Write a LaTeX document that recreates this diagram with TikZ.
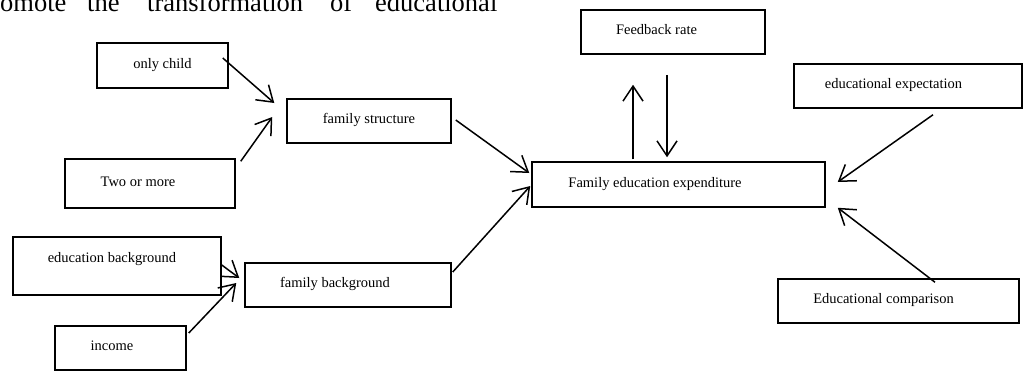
\documentclass[tikz,border=0pt]{standalone}
\usepackage{fontspec}
\setmainfont{Liberation Serif}
\usetikzlibrary{arrows.meta,calc}
\tikzset {
  >={Straight Barb[length=15pt,width=20pt]},
  every node/.style={font=\fontsize{14.5}{17}\selectfont},
}

\begin{document}
\begin{tikzpicture}[x=1pt,y=-1pt,
    box/.style={draw,line width=1.5pt,inner sep=0pt,text height=10pt,text depth=5pt},
    link/.style={->,line width=1.5pt}]
  \useasboundingbox (0,0) rectangle (1024,370);
  \clip (0,0) rectangle (1024,370);
  \foreach \x/\w in {0/omote,87/the,147/transformation,330/of,375/educational}
    \node[anchor=base west,inner sep=0pt,font=\fontsize{26.5}{30}\selectfont] (top-\w) at (\x,11.5) {\w};
  \node[box,minimum width=131pt,minimum height=45pt] (child) at (162.5,65.5) {only child};
  \node[box,minimum width=164pt,minimum height=44pt] (struct) at (369,121) {family structure};
  \node[box,minimum width=170pt,minimum height=49pt] (two) at (150,183.5) {Two or more\hspace*{24pt}};
  \node[box,minimum width=208pt,minimum height=58pt,text depth=18pt] (edu) at (117,266) {education background\hspace*{10pt}};
  \node[box,minimum width=206pt,minimum height=44pt] (fback) at (348,285) {family background\hspace*{26pt}};
  \node[box,minimum width=131pt,minimum height=44pt] (income) at (120.5,348) {income\hspace*{17pt}};
  \node[box,minimum width=184pt,minimum height=44pt] (feed) at (673,32) {Feedback rate\hspace*{33pt}};
  \node[box,minimum width=228pt,minimum height=44pt] (expect) at (908,86) {educational expectation\hspace*{29pt}};
  \node[box,minimum width=293pt,minimum height=45pt] (fee) at (678.5,184.5) {Family education expenditure\hspace*{47pt}};
  \node[box,minimum width=241pt,minimum height=44pt] (compare) at (898.5,301) {Educational comparison\hspace*{30pt}};
  \draw[link] ($(child.east)+(-6,-7.5)$) -- ($(struct.west)+(-12,-18)$);
  \draw[link] ($(two.north east)+(5,3)$) -- ($(struct.west)+(-14,-4)$);
  \draw[link] ($(struct.east)+(4,-1)$) -- ($(fee.west)+(-2,-11.5)$);
  \draw[link] ($(edu.east)+(0,-1)$) -- ($(fback.west)+(-5,-7)$);
  \draw[link] ($(income.east)+(2,-15)$) -- ($(fback.west)+(-8,-2)$);
  \draw[link] ($(fback.east)+(1,-13)$) -- ($(fee.west)+(-1,1.5)$);
  \draw[link] ($(fee.north)+(-45.5,-2)$) -- ($(feed.south)+(-40,30)$);
  \draw[link] ($(feed.south)+(-6,20)$) -- ($(fee.north)+(-11.5,-4)$);
  \draw[link] ($(expect.south)+(25,6)$) -- ($(fee.east)+(12,-2.5)$);
  \draw[link] ($(compare.north)+(36.5,4)$) -- ($(fee.south east)+(12,0)$);
\end{tikzpicture}
\end{document}
